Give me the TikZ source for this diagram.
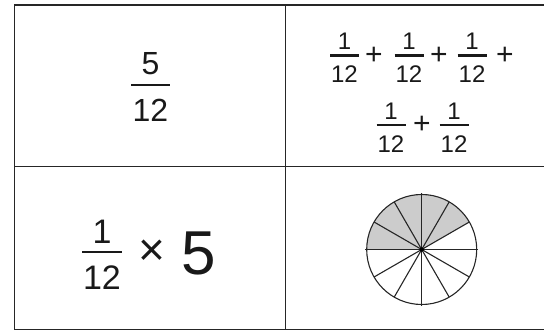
\documentclass[tikz,border=0pt]{standalone}
\usepackage{fontspec}
\setmainfont{Liberation Sans}
\tikzset{
  grid/.style={line width=1.4pt, draw=black!85},
  fbar/.style={line width=2.2pt, draw=black!90},
  digit/.style={anchor=base, inner sep=0pt, outer sep=0pt, text=black!90},
  sym/.style={anchor=center, inner sep=0pt, outer sep=0pt, text=black!90},
  wheel/.style={line width=1.1pt, draw=black!85},
}
% #1 name, #2 x, #3 bar y, #4 half width, #5 font size, #6 numerator, #7 denominator, #8 num offset, #9 den offset
\newcommand\myfrac[9]{%
  \draw[fbar] (#2-#4,#3) -- (#2+#4,#3);
  \node[digit,font=\fontsize{#5}{#5}\selectfont] (#1n) at (#2,#3+#8) {#6};
  \node[digit,font=\fontsize{#5}{#5}\selectfont] (#1d) at (#2,#3-#9) {#7};
}
\begin{document}
\begin{tikzpicture}[x=1pt,y=1pt]
\useasboundingbox (0,0) rectangle (544,332);
% table lines
\coordinate (tl) at (14.7,327);
\coordinate (bl) at (14.7,2.7);
\coordinate (tr) at (544,327);
\coordinate (br) at (544,2.7);
\coordinate (mt) at (285.3,327);
\coordinate (mb) at (285.3,2.7);
\coordinate (ml) at (14.7,165.3);
\coordinate (mr) at (544,165.3);
\draw[grid] (tr) -- (tl) -- (bl) -- (br);
\draw[grid] (mt) -- (mb);
\draw[grid] (ml) -- (mr);
% top-left: 5/12
\myfrac{a}{150.5}{247}{19.5}{32}{5}{12}{10}{37}
% top-right: sums
\myfrac{b1}{344.5}{276.5}{14.5}{24}{1}{12}{5.5}{27.5}
\node[sym,font=\fontsize{30}{30}\selectfont] (p1) at (374,276.5) {+};
\myfrac{b2}{409}{276.5}{14.5}{24}{1}{12}{5.5}{27.5}
\node[sym,font=\fontsize{30}{30}\selectfont] (p2) at (439,276.5) {+};
\myfrac{b3}{472}{276.5}{14.5}{24}{1}{12}{5.5}{27.5}
\node[sym,font=\fontsize{30}{30}\selectfont] (p3) at (505,276.5) {+};
\myfrac{b4}{391}{207}{14.5}{24}{1}{12}{5.5}{27.5}
\node[sym,font=\fontsize{30}{30}\selectfont] (p4) at (422,207) {+};
\myfrac{b5}{454}{207}{14.5}{24}{1}{12}{5.5}{27.5}
% bottom-left: 1/12 x 5
\myfrac{c}{102}{80}{20}{34}{1}{12}{8}{38}
\node[sym,font=\fontsize{46}{46}\selectfont] (times) at (152,79) {×};
\node[digit,font=\fontsize{62}{62}\selectfont] (five) at (199,57) {5};
% bottom-right: circle
\coordinate (C) at (421.7,82.5);
\fill[gray!40] (C) -- ++(30:55) arc[start angle=30,end angle=180,radius=55] -- cycle;
\foreach \a in {30,60,120,150,210,240,300,330}
  \draw[wheel] (C) -- ++(\a:55);
\coordinate (hl) at (365.2,82.5);
\coordinate (hr) at (478.2,82.5);
\coordinate (vt) at (421.7,139);
\coordinate (vb) at (421.7,26);
\draw[wheel] (hl) -- (hr);
\draw[wheel] (vt) -- (vb);
\draw[wheel] (C) circle[radius=55];
\fill[black] (C) circle[radius=2.2];
\end{tikzpicture}
\end{document}
